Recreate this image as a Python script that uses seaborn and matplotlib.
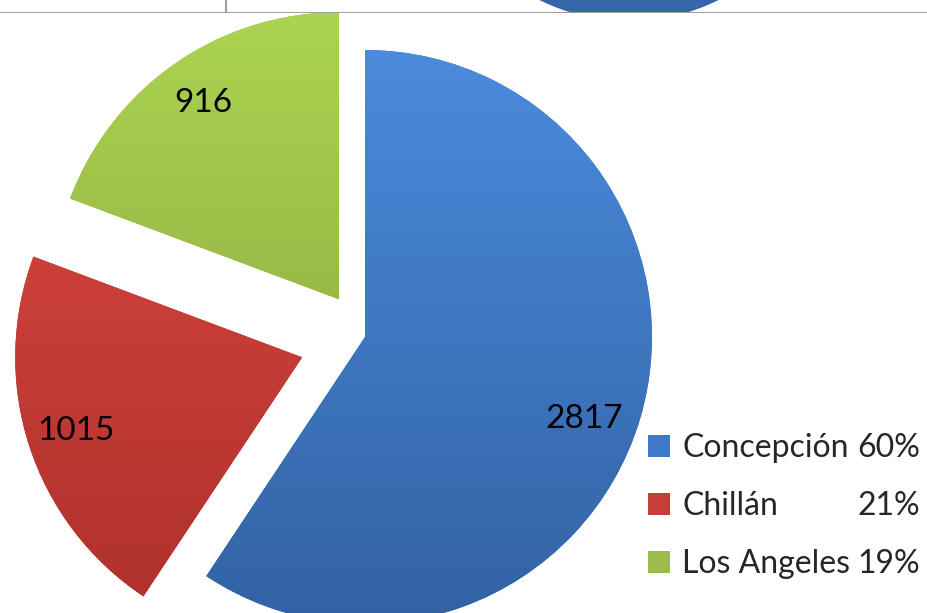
import numpy as np
import matplotlib
matplotlib.use("Agg")
import matplotlib.pyplot as plt
from matplotlib.colors import LinearSegmentedColormap
from matplotlib.patches import Circle
import seaborn as sns

# data
names = ["Concepción", "Chillán", "Los Angeles"]
values = [2817, 1015, 916]
pct_labels = ["60%", "21%", "19%"]
explode = [0, 0.23, 0.16]
# (top, bottom) colours of each slice
grads = [("#4b8bdc", "#3262a3"), ("#dc4741", "#ac302c"), ("#abd451", "#889f3b")]
mid_colors = ["#4079c6", "#c83d38", "#9bbb4a"]

sns.set_theme(style="white")
plt.rcParams['font.family'] = ['Lato', 'DejaVu Sans']

W, H = 927, 613
fig = plt.figure(figsize=(W / 100, H / 100), dpi=100)
ax = fig.add_axes([0, 0, 1, 1])

# pie centre at pixel (365, 337), radius 287 px
cx, cy, R = 365, 337, 287
total = sum(values)
wedges, texts, autotexts = ax.pie(
    values, startangle=90, counterclock=False, explode=explode,
    colors=mid_colors, radius=1, pctdistance=0.83,
    autopct=lambda p: "{:.0f}".format(p * total / 100),
    textprops=dict(fontsize=24, color="black"),
    wedgeprops=dict(linewidth=0))
# excel puts the big slice label a little lower
x, y = autotexts[0].get_position()
autotexts[0].set_position((x - 0.03, y - 0.045))

# vertical gradient inside each slice
grad = np.linspace(0, 1, 256).reshape(-1, 1)
for w, (top, bot) in zip(wedges, grads):
    cmap = LinearSegmentedColormap.from_list("g", [bot, top])
    x0, y0 = w.center
    r = w.r
    im = ax.imshow(grad, extent=[x0 - r, x0 + r, y0 - r, y0 + r], origin="lower",
                   cmap=cmap, aspect="auto", zorder=1.5)
    im.set_clip_path(w)

ax.set_xlim(-cx / R, (W - cx) / R)
ax.set_ylim(-(H - cy) / R, cy / R)
ax.set_aspect("equal")
ax.axis("off")

# legend, percentages right aligned on the same baselines
leg = ax.legend(wedges, names, loc="center left", frameon=False,
                bbox_to_anchor=(648 / W, 1 - 506 / H), bbox_transform=fig.transFigure,
                fontsize=23, handlelength=0.69, handleheight=0.69,
                handletextpad=0.38, labelspacing=0.88, borderpad=0, borderaxespad=0)
fig.canvas.draw()
for t, p in zip(leg.get_texts(), pct_labels):
    bb = t.get_window_extent()
    fig.text(920 / W, bb.y0 / H, p, ha="right", va="bottom", fontsize=23)

# strip at the top (edge of the neighbouring chart)
ax_top = fig.add_axes([0, 1 - 13 / H, 1, 13 / H])
ax_top.set_xlim(0, W)
ax_top.set_ylim(13, 0)
ax_top.axis("off")
ax_top.add_patch(Circle((629, -181), 202, facecolor="#3466a8", edgecolor="none"))
ax_top.plot([226, 226], [0, 12], color="#a0a0a0", lw=1.5)
ax_top.axhline(12.5, color="#a0a0a0", lw=1.5)

fig.savefig("out.png", dpi=100)
